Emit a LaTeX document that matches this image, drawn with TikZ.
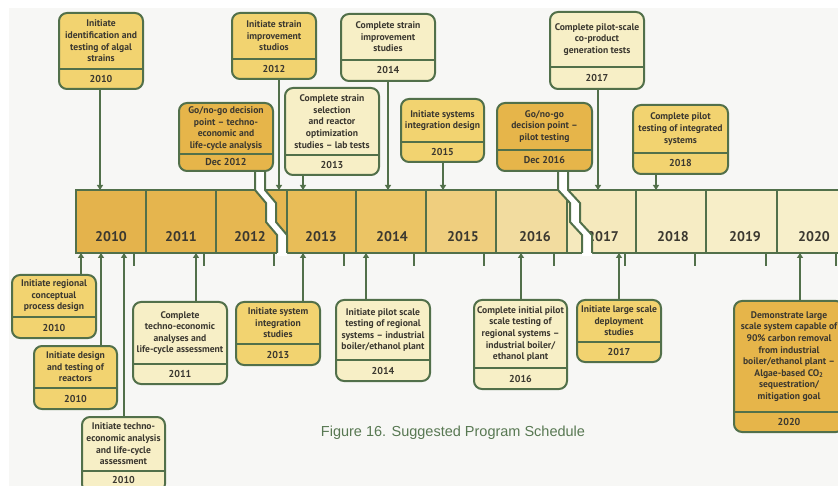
\documentclass[tikz,border=0pt]{standalone}
\usepackage{fontspec}
\setmainfont{PT Sans}
\newfontfamily\capfont{Liberation Sans}
\usetikzlibrary{arrows.meta}

\definecolor{lgreen}{HTML}{52704A}
\definecolor{dtext}{HTML}{3B3830}
\definecolor{bgc}{HTML}{F7F7F5}
\definecolor{capc}{HTML}{587852}
\definecolor{ylw}{HTML}{F2D370}
\definecolor{gold}{HTML}{E6B54A}
\definecolor{pale}{HTML}{F7EFC6}
\definecolor{c2010}{HTML}{E4B34C}
\definecolor{c2011}{HTML}{E5B54E}
\definecolor{c2012}{HTML}{E6B751}
\definecolor{c2013}{HTML}{E8BD58}
\definecolor{c2014}{HTML}{EBC464}
\definecolor{c2015}{HTML}{EFCE7E}
\definecolor{c2016}{HTML}{F2DC9F}
\definecolor{c2017}{HTML}{F5E9BD}
\definecolor{c2018}{HTML}{F6ECC4}
\definecolor{c2019}{HTML}{F7EEC8}
\definecolor{c2020}{HTML}{F7EFCA}

\tikzset{
  mline/.style={draw=lgreen, line width=2pt},
  mbox/.style={draw=lgreen, line width=2pt, rounded corners=8pt, inner sep=0pt},
  mtext/.style={text=dtext, font=\bfseries\fontsize{9.6}{11.6}\selectfont, align=center, inner sep=0pt},
  ytext/.style={text=dtext, font=\bfseries\fontsize{10}{11}\selectfont, inner sep=0pt},
  yrlabel/.style={text=dtext, font=\bfseries\fontsize{14}{16}\selectfont, inner sep=0pt},
  arr/.style={draw=lgreen, line width=2pt, -{Triangle[length=5pt,width=6pt]}},
}

\begin{document}
\begin{tikzpicture}[x=1pt, y=-1pt]
	\useasboundingbox (0,0) rectangle (838,486);
	\fill[white] (0,0) rectangle (838,486);
	\fill[bgc] (9,8) rectangle (838,486);

	% timeline bar
	\fill[c2010] (76,190) rectangle (146,253);
	\fill[c2011] (146,190) rectangle (216,253);
	\fill[c2012] (216,190) rectangle (287,253);
	\fill[c2013] (287,190) rectangle (356,253);
	\fill[c2014] (356,190) rectangle (426,253);
	\fill[c2015] (426,190) rectangle (496,253);
	\fill[c2016] (496,190) rectangle (567,253);
	\fill[c2017] (567,190) rectangle (636,253);
	\fill[c2018] (636,190) rectangle (706,253);
	\fill[c2019] (706,190) rectangle (777,253);
	\fill[c2020] (777,190) rectangle (850,253);

	\draw[mline] (850,190) -- (76,190) -- (76,253) -- (850,253);
	\draw[mline] (146,190) -- (146,253);
	\draw[mline] (216,190) -- (216,253);
	\draw[mline] (287,190) -- (287,253);
	\draw[mline] (356,190) -- (356,253);
	\draw[mline] (426,190) -- (426,253);
	\draw[mline] (496,190) -- (496,253);
	\draw[mline] (567,190) -- (567,253);
	\draw[mline] (636,190) -- (636,253);
	\draw[mline] (706,190) -- (706,253);
	\draw[mline] (777,190) -- (777,253);

	\node[yrlabel] (y2010) at (111,237) {2010};
	\node[yrlabel] (y2011) at (181,237) {2011};
	\node[yrlabel] (y2012) at (250,237) {2012};
	\node[yrlabel] (y2013) at (321,237) {2013};
	\node[yrlabel] (y2014) at (392,237) {2014};
	\node[yrlabel] (y2015) at (463,237) {2015};
	\node[yrlabel] (y2016) at (535,237) {2016};
	\node[yrlabel] (y2017) at (603,237) {2017};
	\node[yrlabel] (y2018) at (673,237) {2018};
	\node[yrlabel] (y2019) at (745,237) {2019};
	\node[yrlabel] (y2020) at (814,237) {2020};

	% ticks under the bar
	\draw[mline] (134,253) -- (134,266);
	\draw[mline] (204,253) -- (204,266);
	\draw[mline] (274,253) -- (274,266);
	\draw[mline] (344,253) -- (344,266);
	\draw[mline] (414,253) -- (414,266);
	\draw[mline] (484,253) -- (484,266);
	\draw[mline] (554,253) -- (554,266);
	\draw[mline] (625,253) -- (625,266);
	\draw[mline] (695,253) -- (695,266);
	\draw[mline] (766,253) -- (766,266);
	\draw[mline] (836,253) -- (836,266);

	% go/no-go breaks
	\fill[white] (255,171) -- (255,190) -- (266,203) -- (266,222) -- (277,235) -- (277,256)
		-- (287,256) -- (287,235) -- (276,222) -- (276,203) -- (265,190) -- (265,171) -- cycle;
	\fill[white] (558,171) -- (558,190) -- (570,203) -- (570,222) -- (582,235) -- (582,256)
		-- (592,256) -- (592,235) -- (580,222) -- (580,203) -- (568,190) -- (568,171) -- cycle;

	\coordinate (g1) at (255,190);
	\coordinate (g1r) at (265,190);
	\coordinate (g2) at (558,190);
	\coordinate (g2r) at (568,190);

	% milestones above
	\node[mbox, fill=ylw, minimum width=84, minimum height=76] (algal) at (101,51) {};
	\draw[mline] (algal.west |- 0,69) -- (algal.east |- 0,69);
	\node[mtext] (algal-t) at (101,41) {Initiate\\identification and\\testing of algal\\strains};
	\node[ytext] (algal-y) at (101,79) {2010};

	\node[mbox, fill=ylw, minimum width=84, minimum height=66] (strainimp) at (274,46) {};
	\draw[mline] (strainimp.west |- 0,59) -- (strainimp.east |- 0,59);
	\node[mtext] (strainimp-t) at (274,36) {Initiate strain\\improvement\\studios};
	\node[ytext] (strainimp-y) at (274,69) {2012};

	\node[mbox, fill=pale, minimum width=94, minimum height=67] (straindone) at (388,47.5) {};
	\draw[mline] (straindone.west |- 0,60) -- (straindone.east |- 0,60);
	\node[mtext] (straindone-t) at (388,37) {Complete strain\\improvement\\studies};
	\node[ytext] (straindone-y) at (388,70.5) {2014};

	\node[mbox, fill=gold, minimum width=94, minimum height=68] (gonogo1) at (226,137) {};
	\draw[mline] (gonogo1.west |- 0,154) -- (gonogo1.east |- 0,154);
	\node[mtext] (gonogo1-t) at (226,128.5) {Go/no-go decision\\point -- techno-\\economic and\\life-cycle analysis};
	\node[ytext] (gonogo1-y) at (226,162.5) {Dec 2012};

	\node[mbox, fill=pale, minimum width=94, minimum height=87] (selection) at (332,131.5) {};
	\draw[mline] (selection.west |- 0,155) -- (selection.east |- 0,155);
	\node[mtext] (selection-t) at (332,121.5) {Complete strain\\selection\\and reactor\\optimization\\studies -- lab tests};
	\node[ytext] (selection-y) at (332,165) {2013};

	\node[mbox, fill=ylw, minimum width=83, minimum height=63] (sysdesign) at (442.5,130.5) {};
	\draw[mline] (sysdesign.west |- 0,142) -- (sysdesign.east |- 0,142);
	\node[mtext] (sysdesign-t) at (442.5,120.5) {Initiate systems\\integration design};
	\node[ytext] (sysdesign-y) at (442.5,152) {2015};

	\node[mbox, fill=gold, minimum width=95, minimum height=68] (gonogo2) at (544.5,137) {};
	\draw[mline] (gonogo2.west |- 0,150) -- (gonogo2.east |- 0,150);
	\node[mtext] (gonogo2-t) at (544.5,126.5) {Go/no-go\\decision point --\\pilot testing};
	\node[ytext] (gonogo2-y) at (544.5,160.5) {Dec 2016};

	\node[mbox, fill=pale, minimum width=94, minimum height=77] (coproduct) at (597,50.5) {};
	\draw[mline] (coproduct.west |- 0,67) -- (coproduct.east |- 0,67);
	\node[mtext] (coproduct-t) at (597,39.5) {Complete pilot-scale\\co-product\\generation tests};
	\node[ytext] (coproduct-y) at (597,78) {2017};

	\node[mbox, fill=ylw, minimum width=95, minimum height=69] (pilotint) at (680.5,139.5) {};
	\draw[mline] (pilotint.west |- 0,153) -- (pilotint.east |- 0,153);
	\node[mtext] (pilotint-t) at (680.5,129) {Complete pilot\\testing of integrated\\systems};
	\node[ytext] (pilotint-y) at (680.5,163.5) {2018};

	% milestones below
	\node[mbox, fill=ylw, minimum width=84, minimum height=63] (regional) at (54,306.5) {};
	\draw[mline] (regional.west |- 0,317) -- (regional.east |- 0,317);
	\node[mtext] (regional-t) at (54,296) {Initiate regional\\conceptual\\process design};
	\node[ytext] (regional-y) at (54,327.5) {2010};

	\node[mbox, fill=ylw, minimum width=83, minimum height=63] (reactors) at (75.5,377.5) {};
	\draw[mline] (reactors.west |- 0,388) -- (reactors.east |- 0,388);
	\node[mtext] (reactors-t) at (75.5,367) {Initiate design\\and testing of\\reactors};
	\node[ytext] (reactors-y) at (75.5,398.5) {2010};

	\node[mbox, fill=pale, minimum width=83, minimum height=75] (teanalysis) at (123.5,454.5) {};
	\draw[mline] (teanalysis.west |- 0,471) -- (teanalysis.east |- 0,471);
	\node[mtext] (teanalysis-t) at (123.5,444) {Initiate techno-\\economic analysis\\and life-cycle\\assessment};
	\node[ytext] (teanalysis-y) at (123.5,479.5) {2010};

	\node[mbox, fill=pale, minimum width=94, minimum height=82] (teassess) at (180,343) {};
	\draw[mline] (teassess.west |- 0,364) -- (teassess.east |- 0,364);
	\node[mtext] (teassess-t) at (180,333) {Complete\\techno-economic\\analyses and\\life-cycle assessment};
	\node[ytext] (teassess-y) at (180,374) {2011};

	\node[mbox, fill=ylw, minimum width=84, minimum height=63] (sysint) at (278,333.5) {};
	\draw[mline] (sysint.west |- 0,344) -- (sysint.east |- 0,344);
	\node[mtext] (sysint-t) at (278,323) {Initiate system\\integration\\studies};
	\node[ytext] (sysint-y) at (278,354.5) {2013};

	\node[mbox, fill=pale, minimum width=94, minimum height=81] (pilotstart) at (383,340.5) {};
	\draw[mline] (pilotstart.west |- 0,360) -- (pilotstart.east |- 0,360);
	\node[mtext] (pilotstart-t) at (383,330) {Initiate pilot scale\\testing of regional\\systems -- industrial\\boiler/ethanol plant};
	\node[ytext] (pilotstart-y) at (383,370.5) {2014};

	\node[mbox, fill=pale, minimum width=93, minimum height=89] (pilotdone) at (520.5,344.5) {};
	\draw[mline] (pilotdone.west |- 0,368) -- (pilotdone.east |- 0,368);
	\node[mtext] (pilotdone-t) at (520.5,334) {Complete initial pilot\\scale testing of\\regional systems --\\industrial boiler/\\ethanol plant};
	\node[ytext] (pilotdone-y) at (520.5,378.5) {2016};

	\node[mbox, fill=ylw, minimum width=84, minimum height=62] (deploy) at (619,331) {};
	\draw[mline] (deploy.west |- 0,342) -- (deploy.east |- 0,342);
	\node[mtext] (deploy-t) at (619,321) {Initiate large scale\\deployment\\studies};
	\node[ytext] (deploy-y) at (619,352) {2017};

	\node[mbox, fill=gold, minimum width=110, minimum height=131] (demo) at (789,366.5) {};
	\draw[mline] (demo.west |- 0,412) -- (demo.east |- 0,412);
	\node[mtext] (demo-t) at (789,356.5) {Demonstrate large\\scale system capable of\\90\% carbon removal\\from industrial\\boiler/ethanol plant --\\Algae-based CO\textsubscript{2}\\sequestration/\\mitigation goal};
	\node[ytext] (demo-y) at (789,422) {2020};

	% connectors
	\draw[mline] (gonogo1.south -| g1) -- (g1) -- ++(11,13) -- ++(0,19) -- ++(11,13) -- ++(0,18);
	\draw[mline] (gonogo1.south -| g1r) -- (g1r) -- ++(11,13) -- ++(0,19) -- ++(11,13) -- ++(0,18);
	\draw[mline] (gonogo2.south -| g2) -- (g2) -- ++(12,13) -- ++(0,19) -- ++(12,13) -- ++(0,18);
	\draw[mline] (gonogo2.south -| g2r) -- (g2r) -- ++(12,13) -- ++(0,19) -- ++(12,13) -- ++(0,18);

	\coordinate (a-algal) at (100,190);
	\coordinate (a-strainimp) at (279,190);
	\coordinate (a-straindone) at (388,190);
	\coordinate (a-selection) at (303,190);
	\coordinate (a-sysdesign) at (443,190);
	\coordinate (a-coproduct) at (598,190);
	\coordinate (a-pilotint) at (656,190);
	\draw[arr] (algal.south -| a-algal) -- (a-algal);
	\draw[arr] (strainimp.south -| a-strainimp) -- (a-strainimp);
	\draw[arr] (straindone.south -| a-straindone) -- (a-straindone);
	\draw[arr] (selection.south -| a-selection) -- (a-selection);
	\draw[arr] (sysdesign.south -| a-sysdesign) -- (a-sysdesign);
	\draw[arr] (coproduct.south -| a-coproduct) -- (a-coproduct);
	\draw[arr] (pilotint.south -| a-pilotint) -- (a-pilotint);

	\coordinate (a-regional) at (81,253);
	\coordinate (a-reactors) at (101,253);
	\coordinate (a-teanalysis) at (124,253);
	\coordinate (a-teassess) at (196,253);
	\coordinate (a-sysint) at (303,253);
	\coordinate (a-pilotstart) at (366,253);
	\coordinate (a-pilotdone) at (521,253);
	\coordinate (a-deploy) at (619,253);
	\coordinate (a-demo) at (800,253);
	\draw[arr] (regional.north -| a-regional) -- (a-regional);
	\draw[arr] (reactors.north -| a-reactors) -- (a-reactors);
	\draw[arr] (teanalysis.north -| a-teanalysis) -- (a-teanalysis);
	\draw[arr] (teassess.north -| a-teassess) -- (a-teassess);
	\draw[arr] (sysint.north -| a-sysint) -- (a-sysint);
	\draw[arr] (pilotstart.north -| a-pilotstart) -- (a-pilotstart);
	\draw[arr] (pilotdone.north -| a-pilotdone) -- (a-pilotdone);
	\draw[arr] (deploy.north -| a-deploy) -- (a-deploy);
	\draw[arr] (demo.north -| a-demo) -- (a-demo);

	\node[text=capc, font=\capfont\fontsize{14.5}{16}\selectfont, inner sep=0pt] (caption) at (453,433) {Figure 16. Suggested Program Schedule};
\end{tikzpicture}
\end{document}
